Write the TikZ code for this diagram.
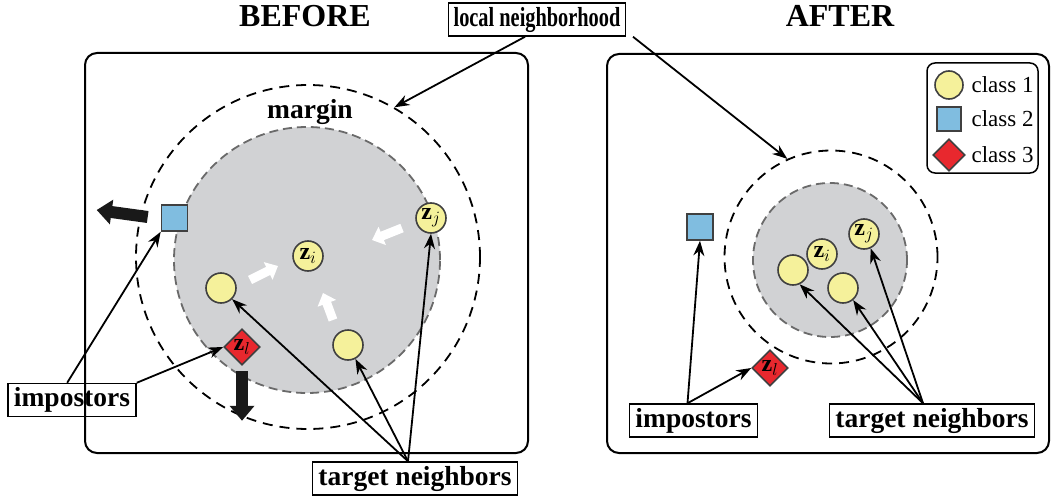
\documentclass[tikz,border=0pt]{standalone}
\usepackage{fontspec}
\usepackage{graphicx}
\setmainfont{Liberation Serif}
\usetikzlibrary{arrows.meta,shapes.geometric,positioning}
\definecolor{ptYellow}{HTML}{F5F19B}
\definecolor{ptBlue}{HTML}{80BDE0}
\definecolor{ptRed}{HTML}{E8282E}
\definecolor{ptEdge}{HTML}{404040}
\definecolor{coreGray}{HTML}{D1D2D4}
\definecolor{coreEdge}{HTML}{6A6A6A}

\begin{document}
\begin{tikzpicture}[
  x=1pt, y=-1pt,
  panel/.style={draw, line width=2pt, rounded corners=12pt},
  pnt/.style={draw=ptEdge, line width=1.6pt, inner sep=0pt, font=\fontsize{24}{24}\selectfont},
  cls1/.style={pnt, circle, fill=ptYellow, minimum size=30pt},
  cls2/.style={pnt, rectangle, fill=ptBlue, minimum size=26pt},
  cls3/.style={pnt, diamond, fill=ptRed, minimum size=36pt},
  hood/.style={circle, draw, line width=1.8pt, dash pattern=on 10pt off 7pt},
  core/.style={circle, draw=coreEdge, fill=coreGray, line width=1.8pt, dash pattern=on 9pt off 5pt},
  lbl/.style={draw, line width=1.5pt, font=\fontsize{27.5}{30}\selectfont\bfseries,
    minimum height=33pt, inner xsep=6pt, inner ysep=0pt},
  ttl/.style={font=\fontsize{32}{34}\selectfont\bfseries},
  legtxt/.style={anchor=west, font=\fontsize{23}{24}\selectfont},
  ptr/.style={-{Stealth[length=15pt,width=11pt]}, line width=1.8pt},
  push/.style={-{Triangle[length=15pt,width=24pt]}, line width=12pt, black!90},
  pull/.style={-{Triangle[length=11pt,width=19pt]}, line width=9pt, white},
]
\useasboundingbox (0,0) rectangle (1051,500);

% panels and titles
\draw[panel] (85,53) rectangle (528,453);
\draw[panel] (607,54) rectangle (1049,453);
\node[ttl] (before) at (305,16) {BEFORE};
\node[ttl] (after) at (840,16) {AFTER};

% BEFORE: neighborhood
\node[hood, minimum size=344pt] (hoodL) at (308,257) {};
\node[core, minimum size=266pt] (coreL) at (307,260) {};
\node[font=\fontsize{27.5}{30}\selectfont\bfseries] (margin) at (310,112) {margin};

% BEFORE: points
\node[cls1] (zjL) at (431,218) {$\mathbf{z}_j$};
\node[cls1] (ziL) at (308,256) {$\mathbf{z}_i$};
\node[cls1] (caL) at (221,288) {};
\node[cls1] (cbL) at (348,345) {};
\node[cls2] (sqL) at (174.5,218) {};
\node[cls3] (dmL) at (242,347) {$\mathbf{z}_l$};

% BEFORE: pushes and pulls
\draw[push] ([xshift=-13pt,yshift=1pt]sqL.west) -- ++(-51,-7);
\draw[push] ([yshift=-5pt]dmL.south) -- ++(0,50);
\draw[pull] (250,280) -- (278,266);
\draw[pull] (333,320) -- (323,293);
\draw[pull] (402,228) -- (372,240);

% AFTER: neighborhood
\node[hood, minimum size=213pt] (hoodR) at (831,257) {};
\node[core, minimum size=154pt] (coreR) at (830,260) {};

% AFTER: points
\node[cls1] (zjR) at (864,234) {$\mathbf{z}_j$};
\node[cls1] (ziR) at (822,254) {$\mathbf{z}_i$};
\node[cls1] (caR) at (793,270) {};
\node[cls1] (cbR) at (843,288) {};
\node[cls2] (sqR) at (700,227) {};
\node[cls3] (dmR) at (770,368) {$\mathbf{z}_l$};

% legend
\node[draw, line width=1.5pt, rounded corners=8pt, minimum width=111pt, minimum height=110pt] (legend) at (982.5,118) {};
\node[cls1, minimum size=28pt] (leg1) at (949,85) {};
\node[cls2, minimum size=24pt] (leg2) at (949,119) {};
\node[cls3, minimum size=32pt] (leg3) at (949,155) {};
\node[legtxt] at (968,85) {class 1};
\node[legtxt] at (968,119) {class 2};
\node[legtxt] at (968,155) {class 3};

% labels
\node[lbl, inner xsep=5pt] (local) at (537,19.5) {\scalebox{0.74}[1]{local neighborhood}};
\node[lbl] (impL) at (72,400) {impostors};
\node[lbl] (tnL) at (415,478.5) {target neighbors};
\node[lbl] (impR) at (693.5,420.5) {impostors};
\node[lbl] (tnR) at (932,420.5) {target neighbors};

% pointers
\draw[ptr] ([xshift=-12pt]local.south) -- (hoodL.60);
\draw[ptr] ([xshift=96pt]local.south) -- (hoodR.114);
\draw[ptr] ([xshift=60pt]impL.north west) -- (sqL.south west);
\draw[ptr] (impL.north east) -- (dmL.west);
\draw[ptr] ([xshift=-7pt]tnL.north) -- (caL.-45);
\draw[ptr] ([xshift=-7pt]tnL.north) -- (cbL.-62);
\draw[ptr] ([xshift=-7pt]tnL.north) -- (zjL.south);
\draw[ptr] ([xshift=-6pt]impR.north) -- (sqR.south);
\draw[ptr] ([xshift=-6pt]impR.north) -- (dmR.west);
\draw[ptr] ([xshift=-9pt]tnR.north) -- (caR.-65);
\draw[ptr] ([xshift=-9pt]tnR.north) -- (cbR.-50);
\draw[ptr] ([xshift=-9pt]tnR.north) -- (zjR.-65);
\end{tikzpicture}
\end{document}
